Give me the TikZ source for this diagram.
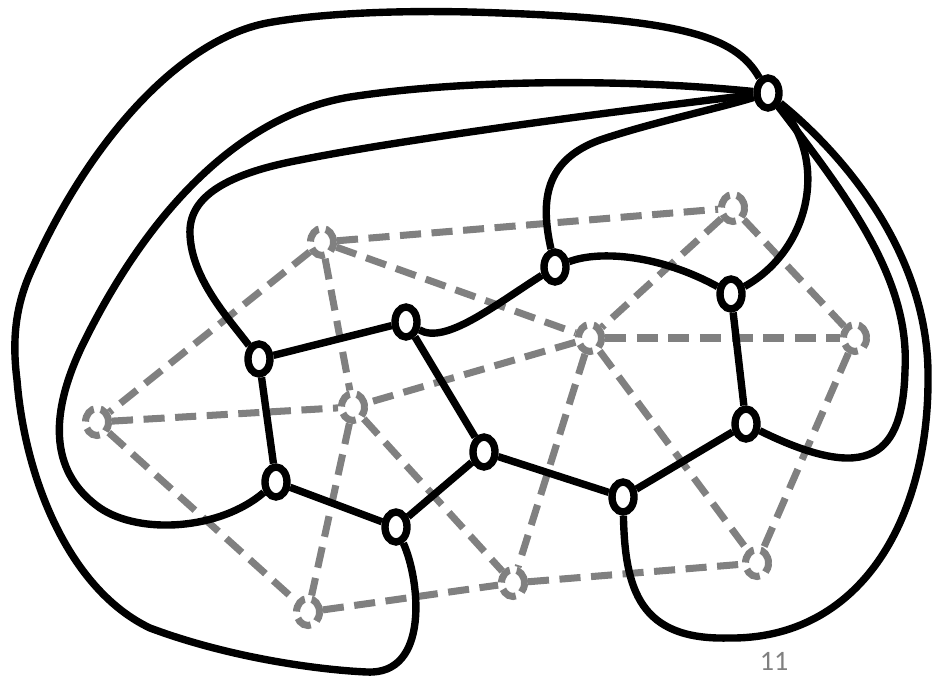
\documentclass[tikz,border=0pt]{standalone}
\usepackage{fontspec}
\setmainfont{Carlito}
\usetikzlibrary{shapes.geometric}
\definecolor{dualgray}{RGB}{128,128,128}
\begin{document}
\begin{tikzpicture}[x=0.02cm,y=-0.02cm,
  vtx/.style={ellipse,draw,line width=4.2pt,fill=white,minimum width=0.44cm,minimum height=0.6cm,inner sep=0pt},
  dual/.style={ellipse,draw=dualgray,line width=4pt,dash pattern=on 9pt off 4pt,fill=white,minimum width=0.46cm,minimum height=0.54cm,inner sep=0pt},
  dualedge/.style={draw=dualgray,line width=4pt,dash pattern=on 12pt off 6pt},
  primal/.style={line width=4.2pt}]
  \useasboundingbox (0,0) rectangle (935,679);
  % 对偶图（灰色虚线）
  \foreach \n/\x/\y in {g1/322/242, g2/733/208, g3/590/338, g4/855/338, g5/97/422,
                        g6/353/407, g7/308/612, g8/513/583, g9/757/563}
    \node[dual] (\n) at (\x,\y) {};
  \foreach \a/\b in {g1/g2, g1/g3, g1/g5, g1/g6, g2/g3, g2/g4, g3/g4, g3/g6, g3/g8,
                     g3/g9, g4/g9, g5/g6, g5/g7, g6/g7, g6/g8, g7/g8, g8/g9}
    \draw[dualedge] (\a) -- (\b);
  % 原图顶点
  \foreach \n/\x/\y in {b0/768/93, b1/555/267, b2/731/294, b3/406/322, b4/259/359,
                        b5/746/424, b6/484/452, b7/276/482, b8/623/497, b9/396/527}
    \node[vtx] (\n) at (\x,\y) {};
  % 内部的边
  \foreach \a/\b in {b4/b3, b3/b6, b4/b7, b7/b9, b9/b6, b6/b8, b8/b5, b5/b2}
    \draw[primal] (\a) -- (\b);
  \draw[primal] (b3) .. controls (445,345) and (495,305) .. (b1);
  \draw[primal] (b1) .. controls (600,250) and (660,255) .. (b2);
  % 从 b0 出发的边
  \draw[primal] (b1) .. controls (540,200) and (545,160) .. (600,140)
    .. controls (650,123) and (720,108) .. (b0);
  \draw[primal] (b2) .. controls (810,250) and (830,160) .. (b0);
  \draw[primal] (b0) .. controls (850,200) and (910,280) .. (905,370)
    .. controls (903,455) and (870,485) .. (b5);
  \draw[primal] (b0) .. controls (850,160) and (930,260) .. (928,380)
    .. controls (928,520) and (860,640) .. (728,638)
    .. controls (640,640) and (625,590) .. (b8);
  \draw[primal] (b0) .. controls (600,113) and (400,140) .. (300,160)
    .. controls (220,175) and (188,200) .. (190,235)
    .. controls (192,280) and (230,320) .. (b4);
  \draw[primal] (b0) .. controls (620,78) and (460,80) .. (350,97)
    .. controls (240,115) and (150,210) .. (85,340)
    .. controls (40,430) and (60,480) .. (100,508)
    .. controls (140,535) and (220,530) .. (b7);
  \draw[primal] (b0) .. controls (735,35) and (680,18) .. (470,12)
    .. controls (380,10) and (310,15) .. (267,23)
    .. controls (180,40) and (90,140) .. (33,267)
    .. controls (15,305) and (12,340) .. (17,380)
    .. controls (25,480) and (70,590) .. (150,628)
    .. controls (230,658) and (320,670) .. (367,672)
    .. controls (430,675) and (420,580) .. (b9);
  % 页码
  \node[text=dualgray,font=\fontsize{16}{19}\selectfont] (pg) at (774,661) {11};
\end{tikzpicture}
\end{document}
